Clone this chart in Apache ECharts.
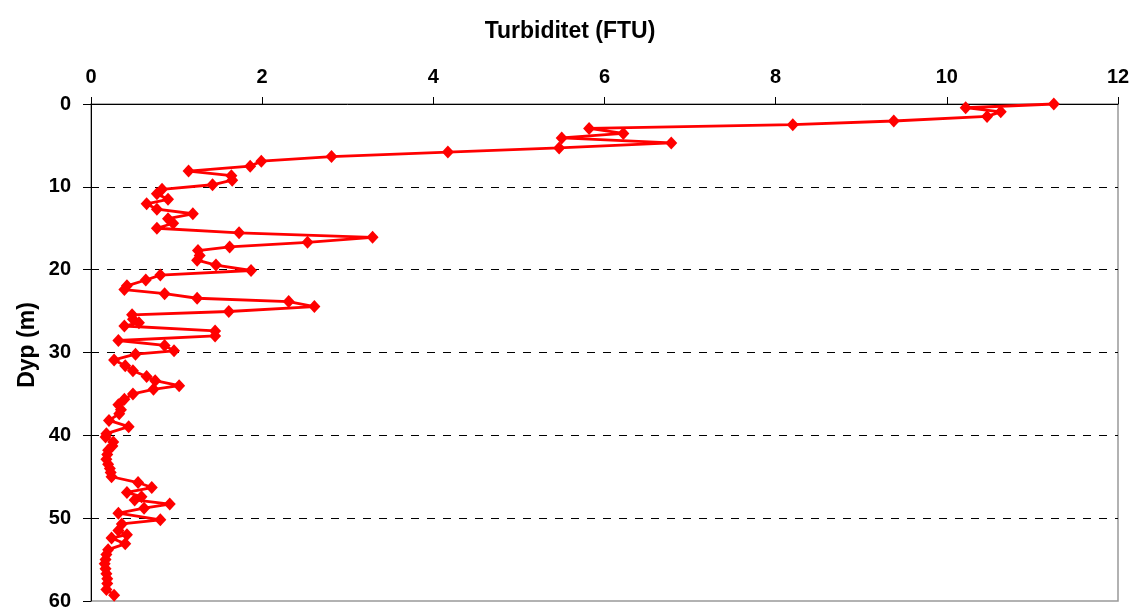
<!DOCTYPE html>
<html>
<head>
<meta charset="utf-8">
<script src="https://cdn.jsdelivr.net/npm/echarts@6/dist/echarts.min.js"></script>
<style>
html,body{margin:0;padding:0;background:#fff;}
#chart{width:1139px;height:615px;}
</style>
</head>
<body>
<div id="chart"></div>
<script>
var depth = [0.0,0.45,0.95,1.5,2.05,2.5,2.95,3.55,4.1,4.7,5.3,5.8,6.35,6.9,7.5,8.1,8.65,9.2,9.75,10.3,
10.85,11.5,12.05,12.7,13.25,13.85,14.4,15.0,15.55,16.1,16.7,17.25,17.7,18.3,18.85,19.45,20.1,20.65,21.25,21.95,
22.4,22.9,23.45,23.85,24.45,25.05,25.45,26.0,26.4,26.8,27.4,28.0,28.55,29.15,29.8,30.2,30.9,31.6,32.2,32.9,
33.4,34.0,34.45,35.0,35.65,36.3,36.9,37.4,38.2,38.95,39.8,40.2,40.8,41.3,41.8,42.3,42.9,43.5,44.0,44.5,
45.0,45.7,46.3,46.9,47.4,47.8,48.3,48.8,49.4,50.2,50.7,51.5,52.0,52.4,53.1,53.8,54.4,55.0,55.5,56.1,
56.7,57.3,57.9,58.6,59.3];
var turbidity = [11.25,10.22,10.63,10.47,9.38,8.20,5.82,6.22,5.50,6.78,5.47,4.17,2.81,1.99,1.86,1.14,1.64,1.65,1.42,0.83,
0.77,0.90,0.65,0.77,1.19,0.90,0.96,0.77,1.73,3.29,2.53,1.62,1.25,1.27,1.24,1.46,1.87,0.81,0.64,0.42,
0.39,0.86,1.24,2.31,2.61,1.61,0.48,0.49,0.56,0.39,1.45,1.45,0.32,0.86,0.97,0.52,0.27,0.40,0.49,0.65,
0.75,1.03,0.73,0.49,0.39,0.32,0.35,0.33,0.21,0.44,0.18,0.17,0.26,0.25,0.20,0.19,0.18,0.20,0.22,0.23,
0.24,0.55,0.71,0.42,0.59,0.51,0.92,0.62,0.32,0.81,0.36,0.32,0.42,0.24,0.40,0.20,0.18,0.17,0.16,0.17,
0.18,0.19,0.19,0.18,0.27];
var xTicks = {min:0, max:12, interval:2};
var yTicks = {min:0, max:60, interval:10};
var xTitle = 'Turbiditet (FTU)';
var yTitle = 'Dyp (m)';

var seriesData = depth.map(function(d,i){ return [turbidity[i], d]; });
var FONT = 'Liberation Sans, Arial, sans-serif';

var chart = echarts.init(document.getElementById('chart'), null, {renderer:'canvas'});
chart.setOption({
  animation:false,
  backgroundColor:'#ffffff',
  title:{
    text:xTitle, left:565, top:15, textAlign:'center',
    textStyle:{fontFamily:FONT, fontWeight:'bold', fontSize:23, color:'#000'}
  },
  graphic:[{
    type:'text', x:28, y:345, rotation:Math.PI/2,
    style:{text:yTitle, fontFamily:FONT, fontWeight:'bold', fontSize:23, fill:'#000', textAlign:'center', textVerticalAlign:'middle'}
  }],
  grid:{left:91, top:104, right:21, bottom:14, show:true, borderColor:'#999', borderWidth:1.5, backgroundColor:'transparent'},
  xAxis:{
    type:'value', position:'top', min:xTicks.min, max:xTicks.max, interval:xTicks.interval,
    axisLine:{show:true, lineStyle:{color:'#000', width:1}},
    axisTick:{show:true, inside:false, length:7, lineStyle:{color:'#000'}},
    axisLabel:{margin:17, fontFamily:FONT, fontWeight:'bold', fontSize:20, color:'#000'},
    splitLine:{show:false}
  },
  yAxis:{
    type:'value', inverse:true, min:yTicks.min, max:yTicks.max, interval:yTicks.interval,
    axisLine:{show:true, onZero:false, lineStyle:{color:'#000', width:1}},
    axisTick:{show:true, inside:false, length:8, lineStyle:{color:'#000'}},
    axisLabel:{margin:20, fontFamily:FONT, fontWeight:'bold', fontSize:20, color:'#000'},
    splitLine:{show:true, lineStyle:{color:['transparent','#000','#000','#000','#000','#000','transparent'], width:1, type:[8,8]}}
  },
  series:[{
    type:'line', data:seriesData, symbol:'diamond', symbolSize:[12,13],
    lineStyle:{color:'#ff0000', width:2.8},
    itemStyle:{color:'#ff0000'},
    showAllSymbol:true, clip:false
  }]
});
</script>
</body>
</html>
